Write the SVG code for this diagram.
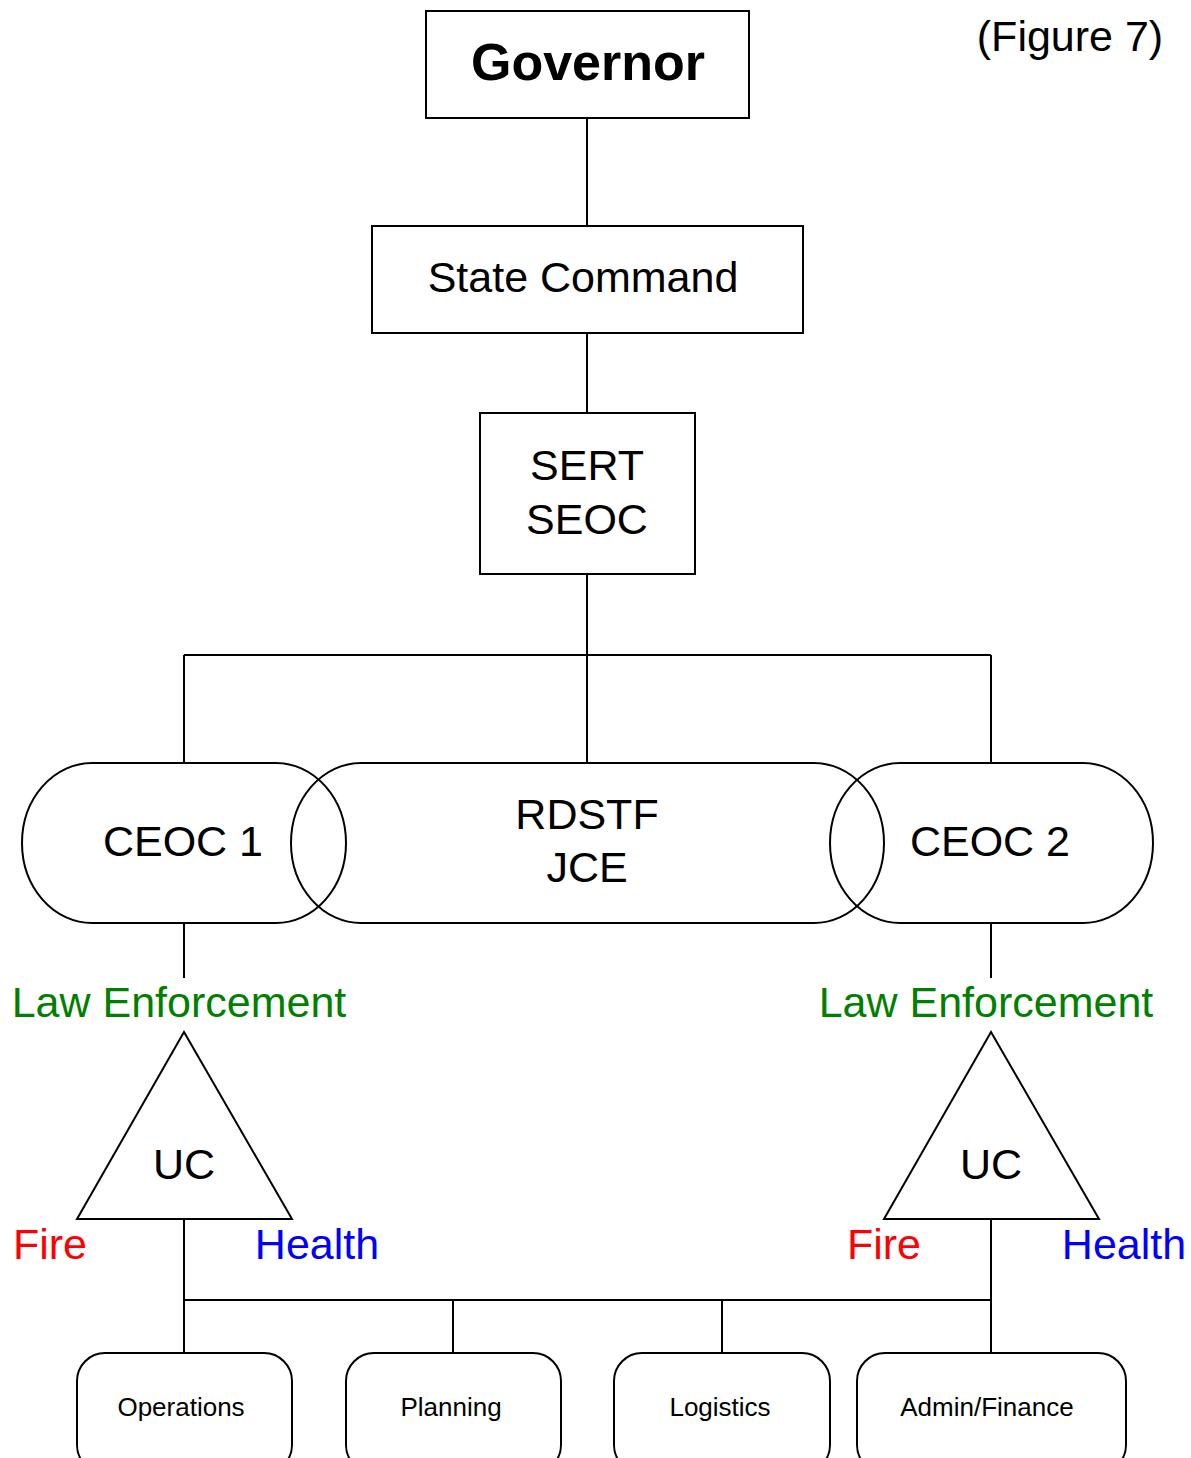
<svg xmlns="http://www.w3.org/2000/svg" width="1191" height="1458" viewBox="0 0 1191 1458">
<style>
.s{fill:none;stroke:#000;stroke-width:2}
text{font-family:"Liberation Sans",Arial,sans-serif;text-anchor:middle;fill:#000}
.t{font-size:43px}
.sm{font-size:26px}
.g{fill:#008000}
.r{fill:#ff0000}
.b{fill:#0000ff}
</style>
<rect width="1191" height="1458" fill="#fff"/>
<g id="connectors" class="s">
<path d="M587 118V226M587 333V413M587 574V763M184 655H991M184 655V763M991 655V763M184 923V978M991 923V978M184 1219V1353M991 1219V1353M184 1300H991M453 1300V1353M722 1300V1353"/>
</g>
<text x="1070" y="51" class="t">(Figure 7)</text>
<g id="governor"><rect class="s" x="426" y="11" width="323" height="107"/><text x="588" y="80" style="font-size:52px;font-weight:bold">Governor</text></g>
<g id="state-command"><rect class="s" x="372" y="226" width="431" height="107"/><text x="583" y="292" class="t">State Command</text></g>
<g id="sert-seoc"><rect class="s" x="480" y="413" width="215" height="161"/><text x="587" y="480" class="t">SERT</text><text x="587" y="534" class="t">SEOC</text></g>
<g id="ceoc1"><rect class="s" x="22" y="763" width="324" height="160" rx="70" ry="80"/><text x="183" y="856" class="t">CEOC 1</text></g>
<g id="rdstf"><rect class="s" x="291" y="763" width="593" height="160" rx="70" ry="80"/><text x="587" y="829" class="t">RDSTF</text><text x="587" y="882" class="t">JCE</text></g>
<g id="ceoc2"><rect class="s" x="830" y="763" width="323" height="160" rx="70" ry="80"/><text x="990" y="856" class="t">CEOC 2</text></g>
<g id="uc1"><polygon class="s" points="184,1032 292,1219 77,1219"/><text x="184" y="1179" class="t">UC</text>
<text x="179" y="1017" class="t g">Law Enforcement</text><text x="50" y="1259" class="t r">Fire</text><text x="317" y="1259" class="t b">Health</text></g>
<g id="uc2"><polygon class="s" points="991,1032 1099,1219 884,1219"/><text x="991" y="1179" class="t">UC</text>
<text x="986" y="1017" class="t g">Law Enforcement</text><text x="884" y="1259" class="t r">Fire</text><text x="1124" y="1259" class="t b">Health</text></g>
<g id="operations"><rect class="s" x="77" y="1353" width="215" height="120" rx="28"/><text x="181" y="1416" class="sm">Operations</text></g>
<g id="planning"><rect class="s" x="346" y="1353" width="215" height="120" rx="28"/><text x="451" y="1416" class="sm">Planning</text></g>
<g id="logistics"><rect class="s" x="614" y="1353" width="216" height="120" rx="28"/><text x="720" y="1416" class="sm">Logistics</text></g>
<g id="admin-finance"><rect class="s" x="857" y="1353" width="269" height="120" rx="28"/><text x="987" y="1416" class="sm">Admin/Finance</text></g>
</svg>
